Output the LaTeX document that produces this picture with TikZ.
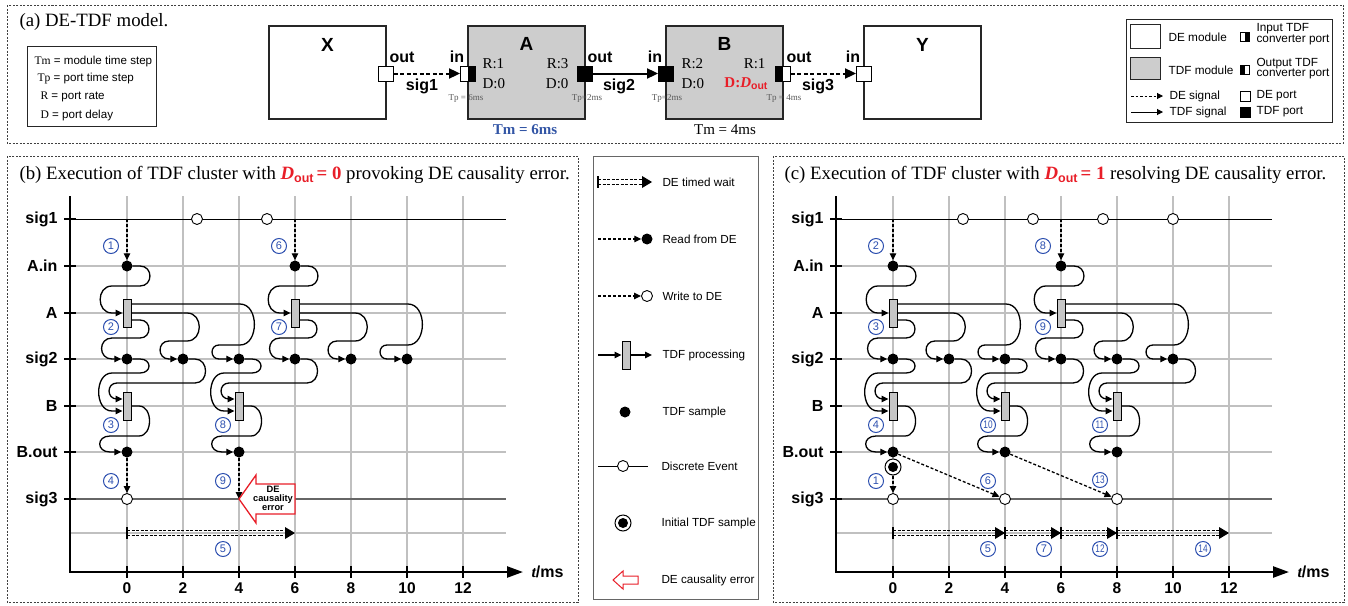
\documentclass[tikz,border=0pt]{standalone}
\usepackage{fontspec}
\setmainfont{Liberation Serif}
\setsansfont{Liberation Sans}
\usetikzlibrary{arrows.meta}
\definecolor{numblue}{RGB}{45,80,175}
\definecolor{errred}{RGB}{232,30,40}
\definecolor{tmblue}{RGB}{50,85,165}
\definecolor{gridc}{RGB}{192,192,192}
\definecolor{modgray}{RGB}{205,205,205}
\tikzset{
 panelbox/.style={draw=black!75,line width=0.8pt,dash pattern=on 2pt off 1.5pt},
 title/.style={font=\fontsize{18.8}{20}\selectfont},
 mod/.style={draw=black!85,line width=1.1pt,minimum width=117pt,minimum height=93pt,inner sep=0pt},
 tdfmod/.style={mod,fill=modgray},
 modlbl/.style={font=\sffamily\bfseries\fontsize{19}{19}\selectfont},
 portlbl/.style={font=\sffamily\bfseries\fontsize{16}{16}\selectfont},
 rdlbl/.style={font=\fontsize{15}{15}\selectfont},
 tplbl/.style={font=\fontsize{9}{9}\selectfont,text=black!65},
 deport/.style={draw=black,fill=white,line width=0.9pt,minimum size=15pt,inner sep=0pt},
 tdfport/.style={deport,fill=black},
 convin/.style={deport,path picture={\fill[black] (path picture bounding box.south) rectangle (path picture bounding box.north east);}},
 convout/.style={deport,path picture={\fill[black] (path picture bounding box.south west) rectangle (path picture bounding box.north);}},
 desig/.style={line width=2pt,dash pattern=on 4pt off 2.5pt,-{Triangle[length=11pt,width=10pt]}},
 tdfsig/.style={line width=2pt,-{Triangle[length=11pt,width=10pt]}},
 lgtxt/.style={font=\sffamily\fontsize{11.8}{10.5}\selectfont,align=left},
 mtxt/.style={font=\sffamily\fontsize{11.7}{12}\selectfont,anchor=west},
 ltxt/.style={font=\sffamily\fontsize{11.6}{12}\selectfont,anchor=west},
 lgarr/.style={line width=1pt,-{Triangle[length=6pt,width=6pt]}},
 lgdash/.style={lgarr,dash pattern=on 2.5pt off 2pt},
 gridl/.style={draw=gridc,line width=1.2pt},
 axisl/.style={line width=2.4pt,line join=miter,-{Triangle[length=16pt,width=11pt]}},
 tick/.style={line width=2.2pt},
 rowlbl/.style={font=\sffamily\bfseries\fontsize{16}{16}\selectfont},
 numlbl/.style={font=\sffamily\bfseries\fontsize{15.5}{15.5}\selectfont},
 dot/.style={circle,fill=black,inner sep=0pt,minimum size=11pt},
 ev/.style={circle,draw=black,fill=white,line width=0.9pt,inner sep=0pt,minimum size=11pt},
 ring/.style={circle,draw=black,fill=white,line width=1pt,inner sep=0pt,minimum size=16pt},
 proc/.style={draw=black,fill=gray!45,line width=0.9pt,inner sep=0pt,minimum width=8pt,minimum height=28pt},
 tdf/.style={line width=1.3pt,-{Triangle[length=7pt,width=6.5pt]}},
 de/.style={line width=1.3pt,dash pattern=on 3pt off 2pt,-{Triangle[length=7pt,width=6.5pt]}},
 cnum/.style={circle,draw=numblue,line width=1pt,text=numblue,inner sep=0pt,minimum size=15pt,font=\sffamily\fontsize{11}{11}\selectfont},
 errarr/.style={draw=errred,line width=1.3pt,fill=white,line join=miter},
 errtxt/.style={font=\sffamily\bfseries\fontsize{9.3}{9}\selectfont,align=center},
 waitl/.style={line width=1pt,dash pattern=on 3pt off 1.5pt},
}
\newcommand\dout[1]{\textcolor{errred}{\bfseries\itshape D\/\upshape\raisebox{-0.3ex}{\sffamily\fontsize{12.5}{12.5}\selectfont out}\,= #1}}
\newcommand\two[1]{\scalebox{0.75}[1]{#1}}
\newcommand\cn[4]{\node[cnum] (#1) at (#2,#3) {#4};}
\newcommand\twait[4]{%
 \coordinate (#1-s) at (#2,#4);
 \coordinate (#1-e) at (#3,#4);
 \draw[line width=1.3pt] ([yshift=6pt]#1-s) -- ([yshift=-6pt]#1-s);
 \draw[waitl] ([yshift=2.5pt]#1-s) -- ([yshift=2.5pt,xshift=-8pt]#1-e);
 \draw[waitl] ([yshift=-2.5pt]#1-s) -- ([yshift=-2.5pt,xshift=-8pt]#1-e);
 \fill ([xshift=-10pt,yshift=6pt]#1-e) -- (#1-e) -- ([xshift=-10pt,yshift=-6pt]#1-e) -- cycle;
}
\newcommand\Grid[1]{%
 \foreach \t in {0,2,...,12}{\draw[gridl] ({127+28*\t},196) -- ({127+28*\t},572);}
 \foreach \r in {266,313,359,406,452,533}{\draw[gridl] (70,\r) -- (506,\r);}
 \draw[line width=1pt] (70,219) -- (506,219);
 \draw[line width=1.4pt,black!60] (70,499) -- (506,499);
 \foreach \r/\l [count=\i] in {219/sig1,266/A.in,313/A,359/sig2,406/B,452/B.out,499/sig3}{
   \draw[tick] (64,\r) -- (76,\r);
   \node[rowlbl,anchor=east] (#1-row\i) at (61,\r) {\l};}
 \foreach \t in {0,2,...,12}{
   \draw[tick] ({127+28*\t},566) -- ({127+28*\t},578);
   \node[numlbl] (#1-x\t) at ({127+28*\t},588) {\t};}
 \coordinate (#1-ytop) at (70,196);
 \coordinate (#1-orig) at (70,572);
 \coordinate (#1-xend) at (523,572);
 \draw[axisl] (#1-ytop) -- (#1-orig) -- (#1-xend);
 \node[anchor=west] (#1-tms) at (528,572) {\fontsize{16}{16}\selectfont\bfseries\itshape t\sffamily\upshape/ms};
}
\newcommand\Afire[2]{%
 \pgfmathsetmacro\AFx{127+28*#2}%
 \pgfmathtruncatemacro\AFb{#2+2}%
 \pgfmathtruncatemacro\AFc{#2+4}%
 \node[dot] (#1-ain#2) at (\AFx,266) {};
 \node[proc] (#1-A#2) at (\AFx,313) {};
 \node[dot] (#1-s2-#2) at (\AFx,359) {};
 \node[dot] (#1-s2-\AFb) at ({\AFx+56},359) {};
 \node[dot] (#1-s2-\AFc) at ({\AFx+112},359) {};
 \coordinate (#1-rd#2) at (\AFx,219);
 \draw[de] (#1-rd#2) -- (#1-ain#2);
 \draw[tdf] (#1-ain#2) -- ({\AFx+13},266) to[out=0,in=0,looseness=1.7] ({\AFx+13},286) -- ({\AFx-15},286) to[out=180,in=180,looseness=1.5] ({\AFx-15},313) -- (#1-A#2);
 \draw[tdf] ([yshift=-7pt]#1-A#2.east) -- ({\AFx+13},320) to[out=0,in=0,looseness=1.7] ({\AFx+13},338) -- ({\AFx-15},338) to[out=180,in=180,looseness=1.7] ({\AFx-15},359) -- (#1-s2-#2);
 \draw[tdf] (#1-A#2.east) -- ({\AFx+60},313) to[out=0,in=0,looseness=1.5] ({\AFx+60},341) -- ({\AFx+42},341) to[out=180,in=180,looseness=1.7] ({\AFx+42},359) -- (#1-s2-\AFb);
 \draw[tdf] ([yshift=9pt]#1-A#2.east) -- ({\AFx+113},304) to[out=0,in=0,looseness=1.2] ({\AFx+113},345) -- ({\AFx+92},345) to[out=180,in=180,looseness=1.7] ({\AFx+92},359) -- (#1-s2-\AFc);
}
\newcommand\Bfire[2]{%
 \pgfmathsetmacro\BFx{127+28*#2}%
 \pgfmathtruncatemacro\BFb{#2+2}%
 \node[proc] (#1-B#2) at (\BFx,406) {};
 \node[dot] (#1-bo#2) at (\BFx,452) {};
 \draw[tdf] (#1-s2-#2) -- ({\BFx+13},359) to[out=0,in=0,looseness=2.2] ({\BFx+13},373) -- ({\BFx-15},373) to[out=180,in=180,looseness=1.2] ({\BFx-15},411) -- ([yshift=-5pt]#1-B#2.west);
 \draw[tdf] (#1-s2-\BFb) -- ({\BFx+68},359) to[out=0,in=0,looseness=1.5] ({\BFx+68},383) -- ({\BFx-10},383) to[out=180,in=180,looseness=1.7] ({\BFx-10},399) -- ([yshift=7pt]#1-B#2.west);
 \draw[tdf] (#1-B#2.east) -- ({\BFx+12},406) to[out=0,in=0,looseness=1.2] ({\BFx+12},436) -- ({\BFx-17},436) to[out=180,in=180,looseness=2.2] ({\BFx-17},452) -- (#1-bo#2);
}
\begin{document}
\begin{tikzpicture}[x=1pt,y=-1pt]
\useasboundingbox (0,0) rectangle (1348,605);
% ---------- panel frames
\draw[panelbox] (7,5) rectangle (1343,143);
\draw[panelbox] (7,156) rectangle (578,602);
\draw[panelbox] (773,156) rectangle (1344,602);
\draw[draw=black!60,line width=1pt] (593,156) rectangle (758,599);
% ---------- titles
\node[title,anchor=west] (ta) at (16,22) {(a) DE-TDF model.};
\node[title,anchor=west] (tb) at (16,175) {(b) Execution of TDF cluster with \dout{0} provoking DE causality error.};
\node[title,anchor=west] (tc) at (781,175) {(c) Execution of TDF cluster with \dout{1} resolving DE causality error.};
% ---------- small legend (a)
\node[draw=black!85,line width=0.9pt,minimum width=129pt,minimum height=80pt] (leg1) at (91.5,86) {};
\node[ltxt] (l1) at (31,61) {{\rmfamily Tm} = module time step};
\node[ltxt] (l2) at (34,79) {{\rmfamily Tp} = port time step};
\node[ltxt] (l3) at (37,97) {{\rmfamily R} = port rate};
\node[ltxt] (l4) at (37,115) {{\rmfamily D} = port delay};
% ---------- modules
\node[mod] (X) at (327.5,72.5) {};
\node[modlbl] (Xl) at (327.5,45) {X};
\node[tdfmod] (A) at (526.5,72.5) {};
\node[modlbl] (Al) at (526.5,44) {A};
\node[tdfmod] (B) at (724.5,72.5) {};
\node[modlbl] (Bl) at (724.5,44) {B};
\node[mod] (Y) at (922.5,72.5) {};
\node[modlbl] (Yl) at (922.5,45) {Y};
\node[deport] (Xout) at (386,73.5) {};
\node[convin] (Ain) at (468,73.5) {};
\node[tdfport] (Aout) at (585,73.5) {};
\node[tdfport] (Bin) at (666,73.5) {};
\node[convout] (Bout) at (783,73.5) {};
\node[deport] (Yin) at (864,73.5) {};
\draw[desig] (Xout) -- (Ain);
\draw[tdfsig] (Aout) -- (Bin);
\draw[desig] (Bout) -- (Yin);
\node[portlbl] (pl1) at (402,57) {out};
\node[portlbl] (pl2) at (457,57) {in};
\node[portlbl] (pl3) at (600,57) {out};
\node[portlbl] (pl4) at (655,57) {in};
\node[portlbl] (pl5) at (799,57) {out};
\node[portlbl] (pl6) at (853,57) {in};
\node[portlbl] (sl1) at (422,86) {sig1};
\node[portlbl] (sl2) at (619,86) {sig2};
\node[portlbl] (sl3) at (818,86) {sig3};
\node[rdlbl,anchor=west] (ar1) at (479,64) {R:1};
\node[rdlbl,anchor=west] (ad1) at (479,84) {D:0};
\node[rdlbl,anchor=east] (ar2) at (572,64) {R:3};
\node[rdlbl,anchor=east] (ad2) at (572,84) {D:0};
\node[rdlbl,anchor=west] (br1) at (678,64) {R:2};
\node[rdlbl,anchor=west] (bd1) at (678,84) {D:0};
\node[rdlbl,anchor=east] (br2) at (769,64) {R:1};
\node[rdlbl,anchor=east,text=errred] (bd2) at (771,84) {\bfseries D:\itshape D\/\upshape\raisebox{-0.3ex}{\sffamily\fontsize{10.5}{10.5}\selectfont out}};
\node[tplbl] (tp1) at (466,98) {Tp = 6ms};
\node[tplbl] (tp2) at (587,98) {Tp=2ms};
\node[tplbl] (tp3) at (667,98) {Tp=2ms};
\node[tplbl] (tp4) at (784,98) {Tp = 4ms};
\node[font=\fontsize{15}{15}\selectfont\bfseries,text=tmblue] (tma) at (525,130) {Tm = 6ms};
\node[font=\fontsize{15}{15}\selectfont] (tmb) at (725,130) {Tm = 4ms};
% ---------- legend (a) right
\node[draw=black!85,line width=0.9pt,minimum width=206pt,minimum height=103pt] (leg2) at (1229,70.5) {};
\node[draw=black!85,line width=0.9pt,fill=white,minimum width=30pt,minimum height=24pt] (lgde) at (1145,36) {};
\node[lgtxt,anchor=west] (lgdet) at (1165,37) {DE module};
\node[draw=black!85,line width=0.9pt,fill=modgray,minimum width=30pt,minimum height=22pt] (lgtm) at (1145,68) {};
\node[lgtxt,anchor=west] (lgtmt) at (1165,70) {TDF module};
\coordinate (lgs1a) at (1131,96); \coordinate (lgs1b) at (1163,96);
\draw[lgdash] (lgs1a) -- (lgs1b);
\node[lgtxt,anchor=west] (lgs1t) at (1166,96) {DE signal};
\coordinate (lgs2a) at (1131,112); \coordinate (lgs2b) at (1163,112);
\draw[lgarr] (lgs2a) -- (lgs2b);
\node[lgtxt,anchor=west] (lgs2t) at (1166,112) {TDF signal};
\node[convin,minimum size=9pt,line width=0.8pt] (lgci) at (1245,37) {};
\node[lgtxt,anchor=west] (lgcit) at (1253,34) {Input TDF\\converter port};
\node[convout,minimum size=9pt,line width=0.8pt] (lgco) at (1245,70) {};
\node[lgtxt,anchor=west] (lgcot) at (1253,68.5) {Output TDF\\converter port};
\node[deport,minimum size=10pt,line width=0.8pt] (lgdp) at (1245,96) {};
\node[lgtxt,anchor=west] (lgdpt) at (1253,96) {DE port};
\node[tdfport,minimum size=10pt,line width=0.8pt] (lgtp) at (1245,112) {};
\node[lgtxt,anchor=west] (lgtpt) at (1253,112) {TDF port};
% ---------- panel (b)
\Grid{b}
\node[ev] (b-e1) at (197,219) {};
\node[ev] (b-e2) at (267,219) {};
\Afire{b}{0}
\Afire{b}{6}
\Bfire{b}{0}
\Bfire{b}{4}
\node[ev] (b-s3-0) at (127,499) {};
\draw[de] (b-bo0) -- (b-s3-0);
\coordinate (b-err) at (239,499);
\draw[de] (b-bo4) -- (b-err);
\draw[errarr] (b-err) -- ++(17,-24) -- ++(0,9) -- ++(39,0) -- ++(0,30) -- ++(-39,0) -- ++(0,9) -- cycle;
\node[errtxt] (b-errt) at (273,498) {DE\\causality\\error};
\twait{b-w}{127}{295}{533}
\cn{b-n1}{111}{246}{1}
\cn{b-n2}{111}{327}{2}
\cn{b-n3}{111}{425}{3}
\cn{b-n4}{111}{481}{4}
\cn{b-n5}{223}{549}{5}
\cn{b-n6}{279}{246}{6}
\cn{b-n7}{279}{327}{7}
\cn{b-n8}{223}{425}{8}
\cn{b-n9}{223}{481}{9}
% ---------- panel (c)
\begin{scope}[xshift=766pt]
\Grid{c}
\node[ev] (c-e1) at (197,219) {};
\node[ev] (c-e2) at (267,219) {};
\node[ev] (c-e3) at (337,219) {};
\node[ev] (c-e4) at (407,219) {};
\Afire{c}{0}
\Afire{c}{6}
\Bfire{c}{0}
\Bfire{c}{4}
\Bfire{c}{8}
\node[ev] (c-s3-0) at (127,499) {};
\node[ev] (c-s3-4) at (239,499) {};
\node[ev] (c-s3-8) at (351,499) {};
\node[ring] (c-init) at (127,467) {};
\node[dot,minimum size=10pt] (c-initd) at (127,467) {};
\draw[de] (c-init) -- (c-s3-0);
\draw[de] (c-bo0) -- (c-s3-4);
\draw[de] (c-bo4) -- (c-s3-8);
\twait{c-w1}{127}{239}{533}
\twait{c-w2}{239}{295}{533}
\twait{c-w3}{295}{351}{533}
\twait{c-w4}{351}{463}{533}
\cn{c-n1}{110}{481}{1}
\cn{c-n2}{110}{246}{2}
\cn{c-n3}{110}{327}{3}
\cn{c-n4}{110}{425}{4}
\cn{c-n5}{222}{549}{5}
\cn{c-n6}{222}{481}{6}
\cn{c-n7}{278}{549}{7}
\cn{c-n8}{277}{246}{8}
\cn{c-n9}{277}{327}{9}
\cn{c-n10}{222}{425}{\two{10}}
\cn{c-n11}{334}{425}{\two{11}}
\cn{c-n12}{334}{549}{\two{12}}
\cn{c-n13}{334}{480}{\two{13}}
\cn{c-n14}{437}{549}{\two{14}}
\end{scope}
% ---------- middle legend
\twait{m-w}{598}{652}{182}
\node[mtxt] (m-t1) at (659,182) {DE timed wait};
\node[dot] (m-rd) at (647,239) {};
\coordinate (m-rds) at (598,239);
\draw[de] (m-rds) -- (m-rd);
\node[mtxt] (m-t2) at (659,239) {Read from DE};
\node[ev] (m-wr) at (647,296) {};
\coordinate (m-wrs) at (598,296);
\draw[de] (m-wrs) -- (m-wr);
\node[mtxt] (m-t3) at (659,296) {Write to DE};
\node[proc] (m-p) at (626,355) {};
\coordinate (m-p1) at (598,355); \coordinate (m-p2) at (652,355);
\draw[tdf] (m-p1) -- (m-p);
\draw[tdf] (m-p) -- (m-p2);
\node[mtxt] (m-t4) at (659,355) {TDF processing};
\node[dot] (m-sm) at (625,412) {};
\node[mtxt] (m-t5) at (659,412) {TDF sample};
\coordinate (m-ea) at (598,466); \coordinate (m-eb) at (648,466);
\draw[line width=1pt] (m-ea) -- (m-eb);
\node[ev] (m-ev) at (623,466) {};
\node[mtxt] (m-t6) at (658,466) {Discrete Event};
\node[ring] (m-init) at (623,523) {};
\node[dot,minimum size=10pt] (m-initd) at (623,523) {};
\node[mtxt] (m-t7) at (658,523) {Initial TDF sample};
\coordinate (m-err) at (613,580);
\draw[errarr,line width=1pt] (m-err) -- ++(10,-9) -- ++(0,5) -- ++(15,0) -- ++(0,8) -- ++(-15,0) -- ++(0,5) -- cycle;
\node[mtxt] (m-t8) at (658,580) {DE causality error};
\end{tikzpicture}
\end{document}
